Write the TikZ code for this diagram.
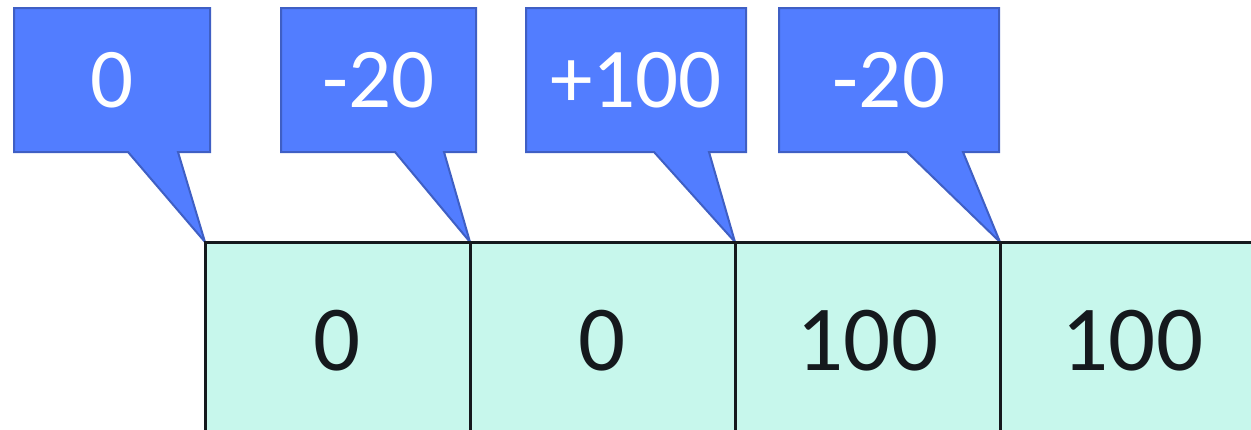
\documentclass[tikz,border=0pt]{standalone}
\usepackage{fontspec}
\setmainfont{Carlito}
\usepackage{tikz}
\usetikzlibrary{positioning,calc,backgrounds}
\definecolor{cellfill}{HTML}{C7F7EC}
\definecolor{tagfill}{HTML}{527DFF}
\definecolor{tagline}{HTML}{3F5FC4}
\definecolor{ink}{HTML}{15191D}

\begin{document}
\begin{tikzpicture}[x=1pt,y=-1pt,
  cell/.style={draw=ink,line width=3pt,fill=cellfill,outer sep=0pt,inner sep=0pt,
    minimum width=265pt,minimum height=198pt,text=ink,font=\fontsize{93}{93}\selectfont},
  tag/.style={outer sep=0pt,inner sep=0pt,minimum height=144pt,text=white,
    font=\fontsize{85}{85}\selectfont},
  tagedge/.style={draw=tagline,line width=2pt,fill=tagfill}]
  \useasboundingbox (0,0) rectangle (1251,429);
  \clip (0,0) rectangle (1251,429);

  % running values
  \node[cell,anchor=north west] (c1) at (205,242) {0};
  \node[cell,right=0pt of c1] (c2) {0};
  \node[cell,right=0pt of c2] (c3) {100};
  \node[cell,right=0pt of c3] (c4) {100};

  % changes
  \node[tag,anchor=north west,minimum width=196pt] (t1) at (14,8) {0};
  \node[tag,anchor=north west,minimum width=195pt] (t2) at (281,8) {-20};
  \node[tag,anchor=north west,minimum width=220pt] (t3) at (526,8) {+100};
  \node[tag,anchor=north west,minimum width=220pt] (t4) at (779,8) {-20};

  \begin{scope}[on background layer]
    \foreach \t/\c/\a/\b in {t1/c1/114/164,t2/c2/114/163,t3/c3/128/183,t4/c4/128/184}
      \draw[tagedge] (\t.south west) -- (\t.north west) -- (\t.north east) -- (\t.south east)
        -- ($(\t.south west)+(\b,0)$) -- (\c.north west) -- ($(\t.south west)+(\a,0)$) -- cycle;
  \end{scope}
\end{tikzpicture}
\end{document}
